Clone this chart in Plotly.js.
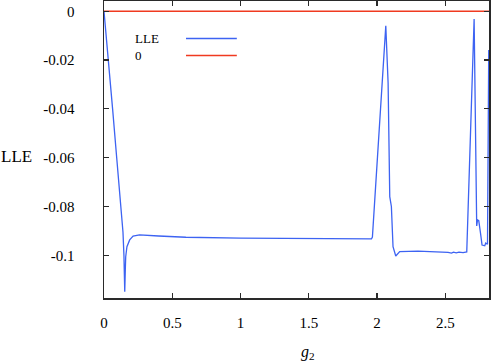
<!DOCTYPE html>
<html>
<head>
<meta charset="utf-8">
<script src="https://cdn.plot.ly/plotly-3.0.1.min.js"></script>
<style>
  html, body { margin: 0; padding: 0; background: #fff; }
  #chart { width: 491px; height: 361px; }
</style>
</head>
<body>
<div id="chart"></div>
<script>
// LLE against g2
var g2 = [0, 0.029, 0.063, 0.093, 0.123, 0.131, 0.139, 0.146, 0.152, 0.156, 0.159, 0.168, 0.188, 0.213, 0.26, 0.4, 0.6, 1.0,
  1.5, 1.959, 1.966, 1.983, 2.02, 2.064, 2.081, 2.093, 2.105, 2.117, 2.137, 2.15, 2.166, 2.3, 2.45, 2.52,
  2.545, 2.56, 2.58, 2.6, 2.63, 2.657, 2.711, 2.73, 2.736, 2.745, 2.758, 2.769, 2.789, 2.796, 2.809, 2.818];
var lle = [0, -0.02, -0.04, -0.06, -0.08, -0.085, -0.0905, -0.1, -0.1149, -0.106, -0.1006, -0.0965, -0.0937, -0.0921, -0.0916, -0.0921, -0.0926, -0.093,
  -0.0932, -0.0933, -0.0925, -0.0773, -0.0405, -0.006, -0.0294, -0.076, -0.08, -0.0965, -0.1003, -0.0993, -0.0985, -0.0983, -0.0985, -0.0988,
  -0.0991, -0.0987, -0.099, -0.0987, -0.0989, -0.0986, -0.0032, -0.088, -0.0855, -0.0858, -0.091, -0.0958, -0.0961, -0.095, -0.0955, -0.0159];
var zeroX = [0, 2.82];
var zeroY = [0, 0];

var xTicks = [0, 0.5, 1, 1.5, 2, 2.5];
var yTicks = [0, -0.02, -0.04, -0.06, -0.08, -0.1];
var yTickText = ["0", "-0.02", "-0.04", "-0.06", "-0.08", "-0.1"];

var blue = "#3d63f2";
var red = "#f03a20";
var serif = "'Liberation Serif', 'Times New Roman', Times, serif";

var data = [
  {name: "0", x: zeroX, y: zeroY, type: "scatter", mode: "lines", line: {color: red, width: 1.4}},
  {name: "LLE", x: g2, y: lle, type: "scatter", mode: "lines", line: {color: blue, width: 1.3}}
];

var axisCommon = {
  showgrid: false, zeroline: false,
  showline: true, linecolor: "#2a2a2a", linewidth: 1.5, mirror: "allticks",
  ticks: "inside", ticklen: 5, tickwidth: 1.2, tickcolor: "#2a2a2a",
  tickfont: {family: serif, size: 15, color: "#000"}
};

var layout = {
  width: 491, height: 361,
  margin: {l: 104, r: 2, t: 1, b: 63},
  paper_bgcolor: "#fff", plot_bgcolor: "#fff",
  font: {family: serif},
  showlegend: false,
  xaxis: Object.assign({}, axisCommon, {
    range: [0, 2.82], tickvals: xTicks, ticklabelstandoff: 10
  }),
  yaxis: Object.assign({}, axisCommon, {
    range: [-0.1175, 0.0042], tickvals: yTicks, ticktext: yTickText, ticklabelstandoff: 25
  }),
  annotations: [
    {text: "LLE", xref: "paper", yref: "paper", x: -0.272, y: 0.478, xanchor: "left", yanchor: "middle",
     showarrow: false, font: {family: serif, size: 17, color: "#000"}},
    {text: "<i>g</i><sub>2</sub>", xref: "paper", yref: "paper", x: 0.5286, y: -0.182, xanchor: "center", yanchor: "middle",
     showarrow: false, font: {family: serif, size: 16, color: "#000"}},
    {text: "LLE", xref: "paper", yref: "paper", x: 0.0753, y: 0.874, xanchor: "left", yanchor: "middle",
     showarrow: false, font: {family: serif, size: 13, color: "#000"}},
    {text: "0", xref: "paper", yref: "paper", x: 0.0753, y: 0.8165, xanchor: "left", yanchor: "middle",
     showarrow: false, font: {family: serif, size: 13, color: "#000"}}
  ],
  shapes: [
    {type: "line", xref: "paper", yref: "paper", x0: 0.213, x1: 0.345, y0: 0.874, y1: 0.874, line: {color: blue, width: 1.5}},
    {type: "line", xref: "paper", yref: "paper", x0: 0.213, x1: 0.345, y0: 0.8165, y1: 0.8165, line: {color: red, width: 1.5}}
  ]
};

Plotly.newPlot("chart", data, layout, {displayModeBar: false, staticPlot: true});
</script>
</body>
</html>
